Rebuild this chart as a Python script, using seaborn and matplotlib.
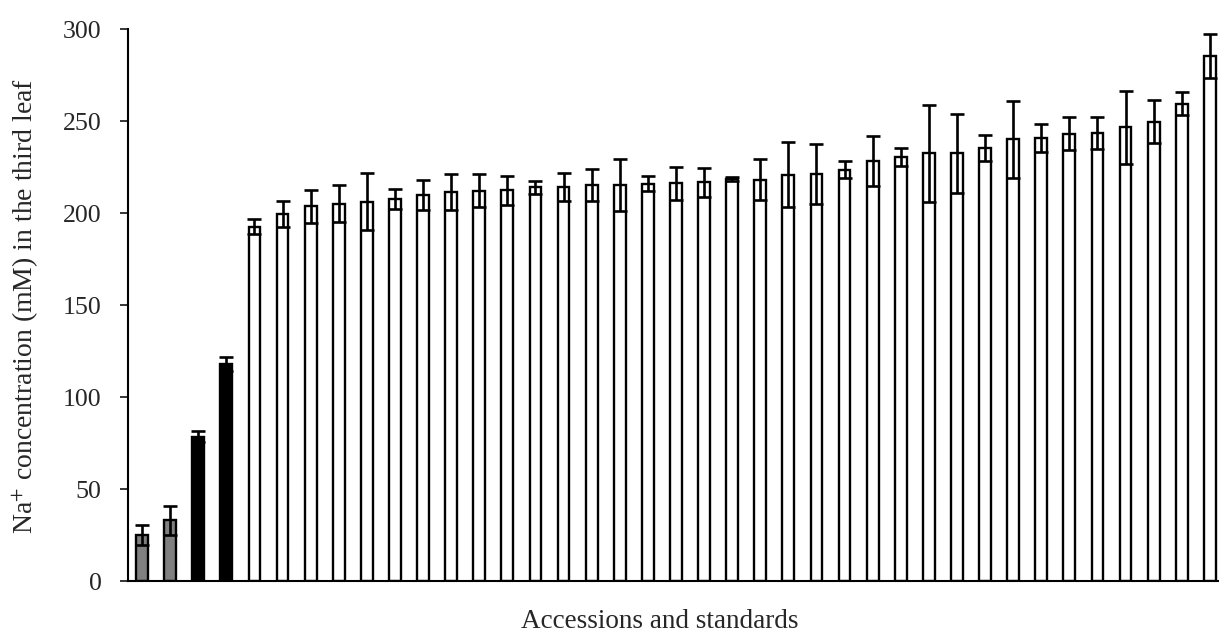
import matplotlib
matplotlib.use("Agg")
import matplotlib.pyplot as plt
import seaborn as sns
import numpy as np
import pandas as pd

# Standards (grey = tolerant, black = sensitive) followed by accessions sorted by Na+ level
standard_values = [25, 33, 78.5, 118]
standard_errors = [5.5, 8, 3, 4]
standard_groups = ["grey", "grey", "black", "black"]

accession_values = [192.6, 199.4, 203.7, 205, 206.1, 207.7, 209.7, 211.4, 212, 212.3,
                    213.9, 214.1, 215, 215.2, 215.9, 216.1, 216.7, 218.3, 218.1, 220.8,
                    221.4, 223.6, 228.3, 230.3, 232.5, 232.5, 235.2, 240.1, 240.5, 243.2,
                    243.4, 246.5, 249.7, 259.5, 285.3]
accession_errors = [4, 7, 9, 10, 15.6, 5.5, 8, 10, 9, 8,
                    3.6, 7.8, 8.7, 14.3, 4, 9, 8, 1, 11, 17.7,
                    16.3, 4.4, 13.4, 5, 26.3, 21.4, 7, 21, 7.6, 9,
                    8.7, 19.8, 11.6, 6, 12]

values = standard_values + accession_values
errors = standard_errors + accession_errors
groups = standard_groups + ["white"] * len(accession_values)
labels = [str(i) for i in range(len(values))]

df = pd.DataFrame({"item": labels, "value": values, "group": groups})

sns.set_theme(style="white")
plt.rcParams["font.family"] = ["Liberation Serif", "DejaVu Serif"]
plt.rcParams["mathtext.fontset"] = "stix"

W, H = 1219, 635
fig = plt.figure(figsize=(W / 100, H / 100), dpi=100)
left, right, top, bottom = 128, 1219, 29, 581
ax = fig.add_axes([left / W, 1 - bottom / H, (right - left) / W, (bottom - top) / H])

sns.barplot(data=df, x="item", y="value", hue="group",
            palette={"grey": "#808080", "black": "#000000", "white": "#ffffff"},
            dodge=False, legend=False, width=0.42, edgecolor="black",
            linewidth=1.7, ax=ax, zorder=2)

ax.errorbar(np.arange(len(values)), values, yerr=errors, fmt="none",
            ecolor="black", elinewidth=1.9, capsize=4.8, capthick=1.9, zorder=3)

ax.set_ylim(0, 300)
ax.set_xlim(-0.5, -0.5 + (right - left) / 28.1)
ax.set_yticks(range(0, 301, 50))
ax.set_xticks([])
ax.tick_params(axis="y", direction="out", length=6, width=1.3, labelsize=18.6,
               pad=13, left=True)
ax.set_xlabel("")
ax.set_ylabel("")

fig.text(26 / W, 1 - 306 / H, "Na$^{+}$ concentration (mM) in the third leaf",
         rotation=90, ha="center", va="center", fontsize=20)
fig.text(660 / W, 7 / H, "Accessions and standards",
         ha="center", va="baseline", fontsize=19.5)

for side in ["top", "right"]:
    ax.spines[side].set_visible(False)
for side in ["left", "bottom"]:
    ax.spines[side].set_color("black")
    ax.spines[side].set_linewidth(1.5)

fig.savefig("out.png", dpi=100)
